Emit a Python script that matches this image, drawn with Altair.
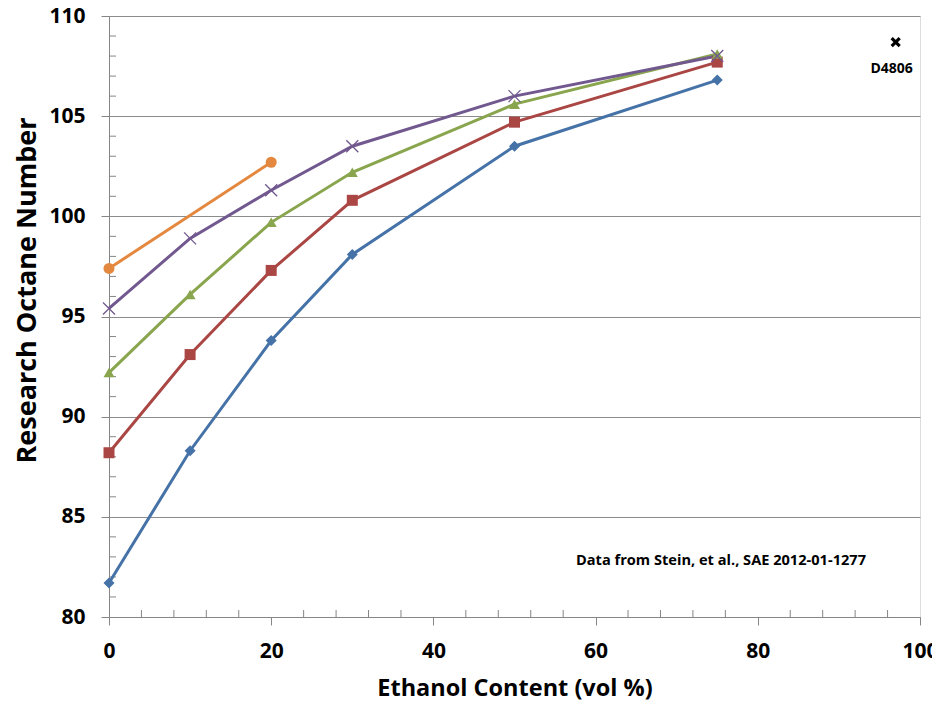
import altair as alt
import pandas as pd

# ---- data ----
ethanol = [0, 10, 20, 30, 50, 75]
ron_s1 = [81.7, 88.3, 93.8, 98.1, 103.5, 106.8]   # blue diamonds
ron_s2 = [88.2, 93.1, 97.3, 100.8, 104.7, 107.7]  # red squares
ron_s3 = [92.2, 96.1, 99.7, 102.2, 105.6, 108.1]  # green triangles
ron_s4 = [95.4, 98.9, 101.3, 103.5, 106.0, 108.0] # purple x
ethanol_s5 = [0, 20]
ron_s5 = [97.4, 102.7]                            # orange circles

d4806_x = [97]
d4806_y = [108.7]
d4806_label = ["D4806"]

series_names = ["S1", "S2", "S3", "S4", "S5"]
series_colors = ["#4572A7", "#AA4643", "#89A54E", "#71588F", "#E4883F"]
series_shapes = ["diamond", "square", "triangle-up", "M-1,-1L1,1M-1,1L1,-1", "circle"]

x_major = [0, 20, 40, 60, 80, 100]
x_minor = [v for v in range(0, 101, 4) if v % 20 != 0]
y_major = [80, 85, 90, 95, 100, 105, 110]
y_minor = [v for v in range(80, 111) if v % 5 != 0]

rows = []
for name, ys in zip(series_names[:4], [ron_s1, ron_s2, ron_s3, ron_s4]):
    for x, y in zip(ethanol, ys):
        rows.append({"series": name, "ethanol": x, "ron": y})
for x, y in zip(ethanol_s5, ron_s5):
    rows.append({"series": "S5", "ethanol": x, "ron": y})
df = pd.DataFrame(rows)

W, H = 811, 601
FONT = "Open Sans"
AX = "#868686"

xs = alt.Scale(domain=[0, 100], nice=False, zero=False)
ys = alt.Scale(domain=[80, 110], nice=False, zero=False)
col = alt.Color("series:N", scale=alt.Scale(domain=series_names, range=series_colors), legend=None)

xaxis = alt.Axis(values=x_major, grid=False, tickSize=8, tickColor=AX, domainColor=AX,
                 labelFont=FONT, labelFontSize=21, labelFontWeight="bold", labelColor="black",
                 labelPadding=15, title="Ethanol Content (vol %)", titleFont=FONT,
                 titleFontSize=23.5, titleFontWeight="bold", titleColor="black", titlePadding=15,
                 format="d", labelFlush=False)
yaxis = alt.Axis(values=y_major, grid=True, gridColor="#8c8c8c", tickSize=8, tickColor=AX,
                 domainColor=AX, labelFont=FONT, labelFontSize=21, labelFontWeight="bold",
                 labelColor="black", labelPadding=16, title="Research Octane Number",
                 titleFont=FONT, titleFontSize=27, titleFontWeight="bold", titleColor="black",
                 titleX=-74, titleY=274, titleBaseline="alphabetic", titleAngle=270,
                 titleAlign="center", format="d", labelFlush=False)

base = alt.Chart(df)
lines = base.mark_line(strokeWidth=3).encode(
    x=alt.X("ethanol:Q", scale=xs, axis=xaxis),
    y=alt.Y("ron:Q", scale=ys, axis=yaxis),
    color=col,
    detail="series:N",
)
filled_pts = base.transform_filter(alt.datum.series != "S4").mark_point(filled=True, opacity=1, size=121).encode(
    x=alt.X("ethanol:Q", scale=xs), y=alt.Y("ron:Q", scale=ys), color=col,
    shape=alt.Shape("series:N", scale=alt.Scale(domain=series_names, range=series_shapes), legend=None),
)
x_pts = base.transform_filter(alt.datum.series == "S4").mark_point(
    shape="M-1,-1L1,1M-1,1L1,-1", filled=False, size=144, strokeWidth=1.3, opacity=1
).encode(x=alt.X("ethanol:Q", scale=xs), y=alt.Y("ron:Q", scale=ys), color=col)

# minor ticks (inside)
xm = alt.Chart(pd.DataFrame({"v": x_minor})).mark_rule(color=AX, strokeWidth=1).encode(
    x=alt.X("v:Q", scale=xs), y=alt.value(H), y2=alt.value(H - 7))
ym = alt.Chart(pd.DataFrame({"v": y_minor})).mark_rule(color=AX, strokeWidth=1).encode(
    y=alt.Y("v:Q", scale=ys), x=alt.value(0), x2=alt.value(7))

ddf = pd.DataFrame({"x": d4806_x, "y": d4806_y, "label": d4806_label})
d_pt = alt.Chart(ddf).mark_point(shape="M-1,-1L1,1M-1,1L1,-1", filled=False, size=64,
                                 strokeWidth=3.2, color="black", opacity=1).encode(
    x=alt.X("x:Q", scale=xs), y=alt.Y("y:Q", scale=ys))
d_txt = alt.Chart(ddf).mark_text(font=FONT, fontSize=14, fontWeight="bold", color="black",
                                 dy=27, dx=-4).encode(
    x=alt.X("x:Q", scale=xs), y=alt.Y("y:Q", scale=ys), text="label:N")

note = alt.Chart(pd.DataFrame({"t": ["Data from Stein, et al.,  SAE 2012-01-1277"]})).mark_text(
    font=FONT, fontSize=14.6, fontWeight="bold", color="black", align="center", baseline="middle"
).encode(x=alt.value(612), y=alt.value(545), text="t:N")

chart = alt.layer(xm, ym, lines, filled_pts, x_pts, d_pt, d_txt, note).properties(
    width=W, height=H,
    autosize=alt.AutoSizeParams(type="none"),
    padding={"left": 101, "top": 8, "right": 12, "bottom": 95},
).configure_view(stroke=AX, strokeWidth=1).configure(background="white")

chart.save("out.html", embed_options={"renderer": "svg", "actions": False})
